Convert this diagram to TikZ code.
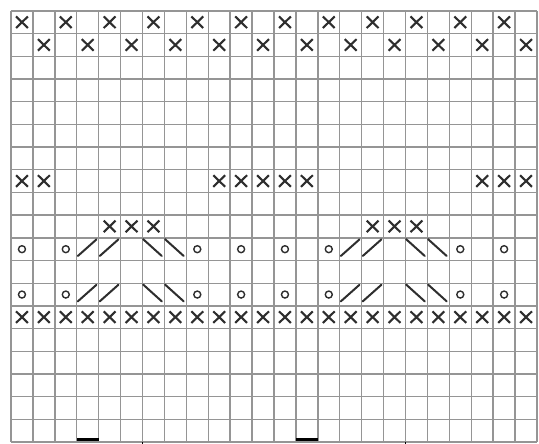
\documentclass[tikz,border=0pt]{standalone}
\usepackage{xcolor}
\usepackage{tikz}
\definecolor{gridgray}{HTML}{959595}
\definecolor{ink}{HTML}{2E2E2E}

% one stitch symbol per cell, cell (c,r) spans c-1..c and r-1..r
\newcommand{\purlst}[2]{\draw[cross] (#1-0.77,#2-0.76) -- (#1-0.23,#2-0.25) (#1-0.77,#2-0.25) -- (#1-0.23,#2-0.76);}
\newcommand{\yost}[2]{\draw[yarnover] (#1-0.5,#2-0.5) circle[radius=3.5pt];}
\newcommand{\rdecst}[2]{\draw[decrease] (#1-0.95,#2-0.2) -- (#1-0.1,#2-0.93);}
\newcommand{\ldecst}[2]{\draw[decrease] (#1-0.97,#2-0.94) -- (#1-0.12,#2-0.2);}

\begin{document}
\begin{tikzpicture}[
  x=21.917pt,y=-22.684pt,
  gridline/.style={draw=gridgray,line width=1.4pt},
  cross/.style={draw=ink,line width=2.1pt},
  yarnover/.style={draw=ink,line width=1.4pt},
  decrease/.style={draw=ink,line width=2pt,line cap=round},
  bottombar/.style={draw=black,line width=2.6pt},
  bottomtick/.style={draw=black,line width=1.2pt}
]
\useasboundingbox (-0.502,-0.485) rectangle (24.092,19.088);
% grid
\foreach \c in {0,...,24} {\draw[gridline] (\c,0) -- (\c,19);}
\foreach \r in {0,...,19} {\draw[gridline] (0,\r) -- (24,\r);}
% rows 1 and 2
\foreach \c in {1,3,...,23} {\purlst{\c}{1}}
\foreach \c in {2,4,...,24} {\purlst{\c}{2}}
% row 8
\foreach \c in {1,2,10,11,12,13,14,22,23,24} {\purlst{\c}{8}}
% row 10
\foreach \c in {5,6,7,17,18,19} {\purlst{\c}{10}}
% rows 11 and 13
\foreach \r in {11,13} {
  \foreach \c in {1,3,9,11,13,15,21,23} {\yost{\c}{\r}}
  \foreach \c in {4,5,16,17} {\rdecst{\c}{\r}}
  \foreach \c in {7,8,19,20} {\ldecst{\c}{\r}}
}
% row 14
\foreach \c in {1,...,24} {\purlst{\c}{14}}
% bottom marks
\foreach \c in {4,14} {\draw[bottombar] (\c-1,18.9) -- (\c,18.9);}
\foreach \c in {6,18} {\draw[bottomtick] (\c,19) -- (\c,19.08);}
\end{tikzpicture}
\end{document}
